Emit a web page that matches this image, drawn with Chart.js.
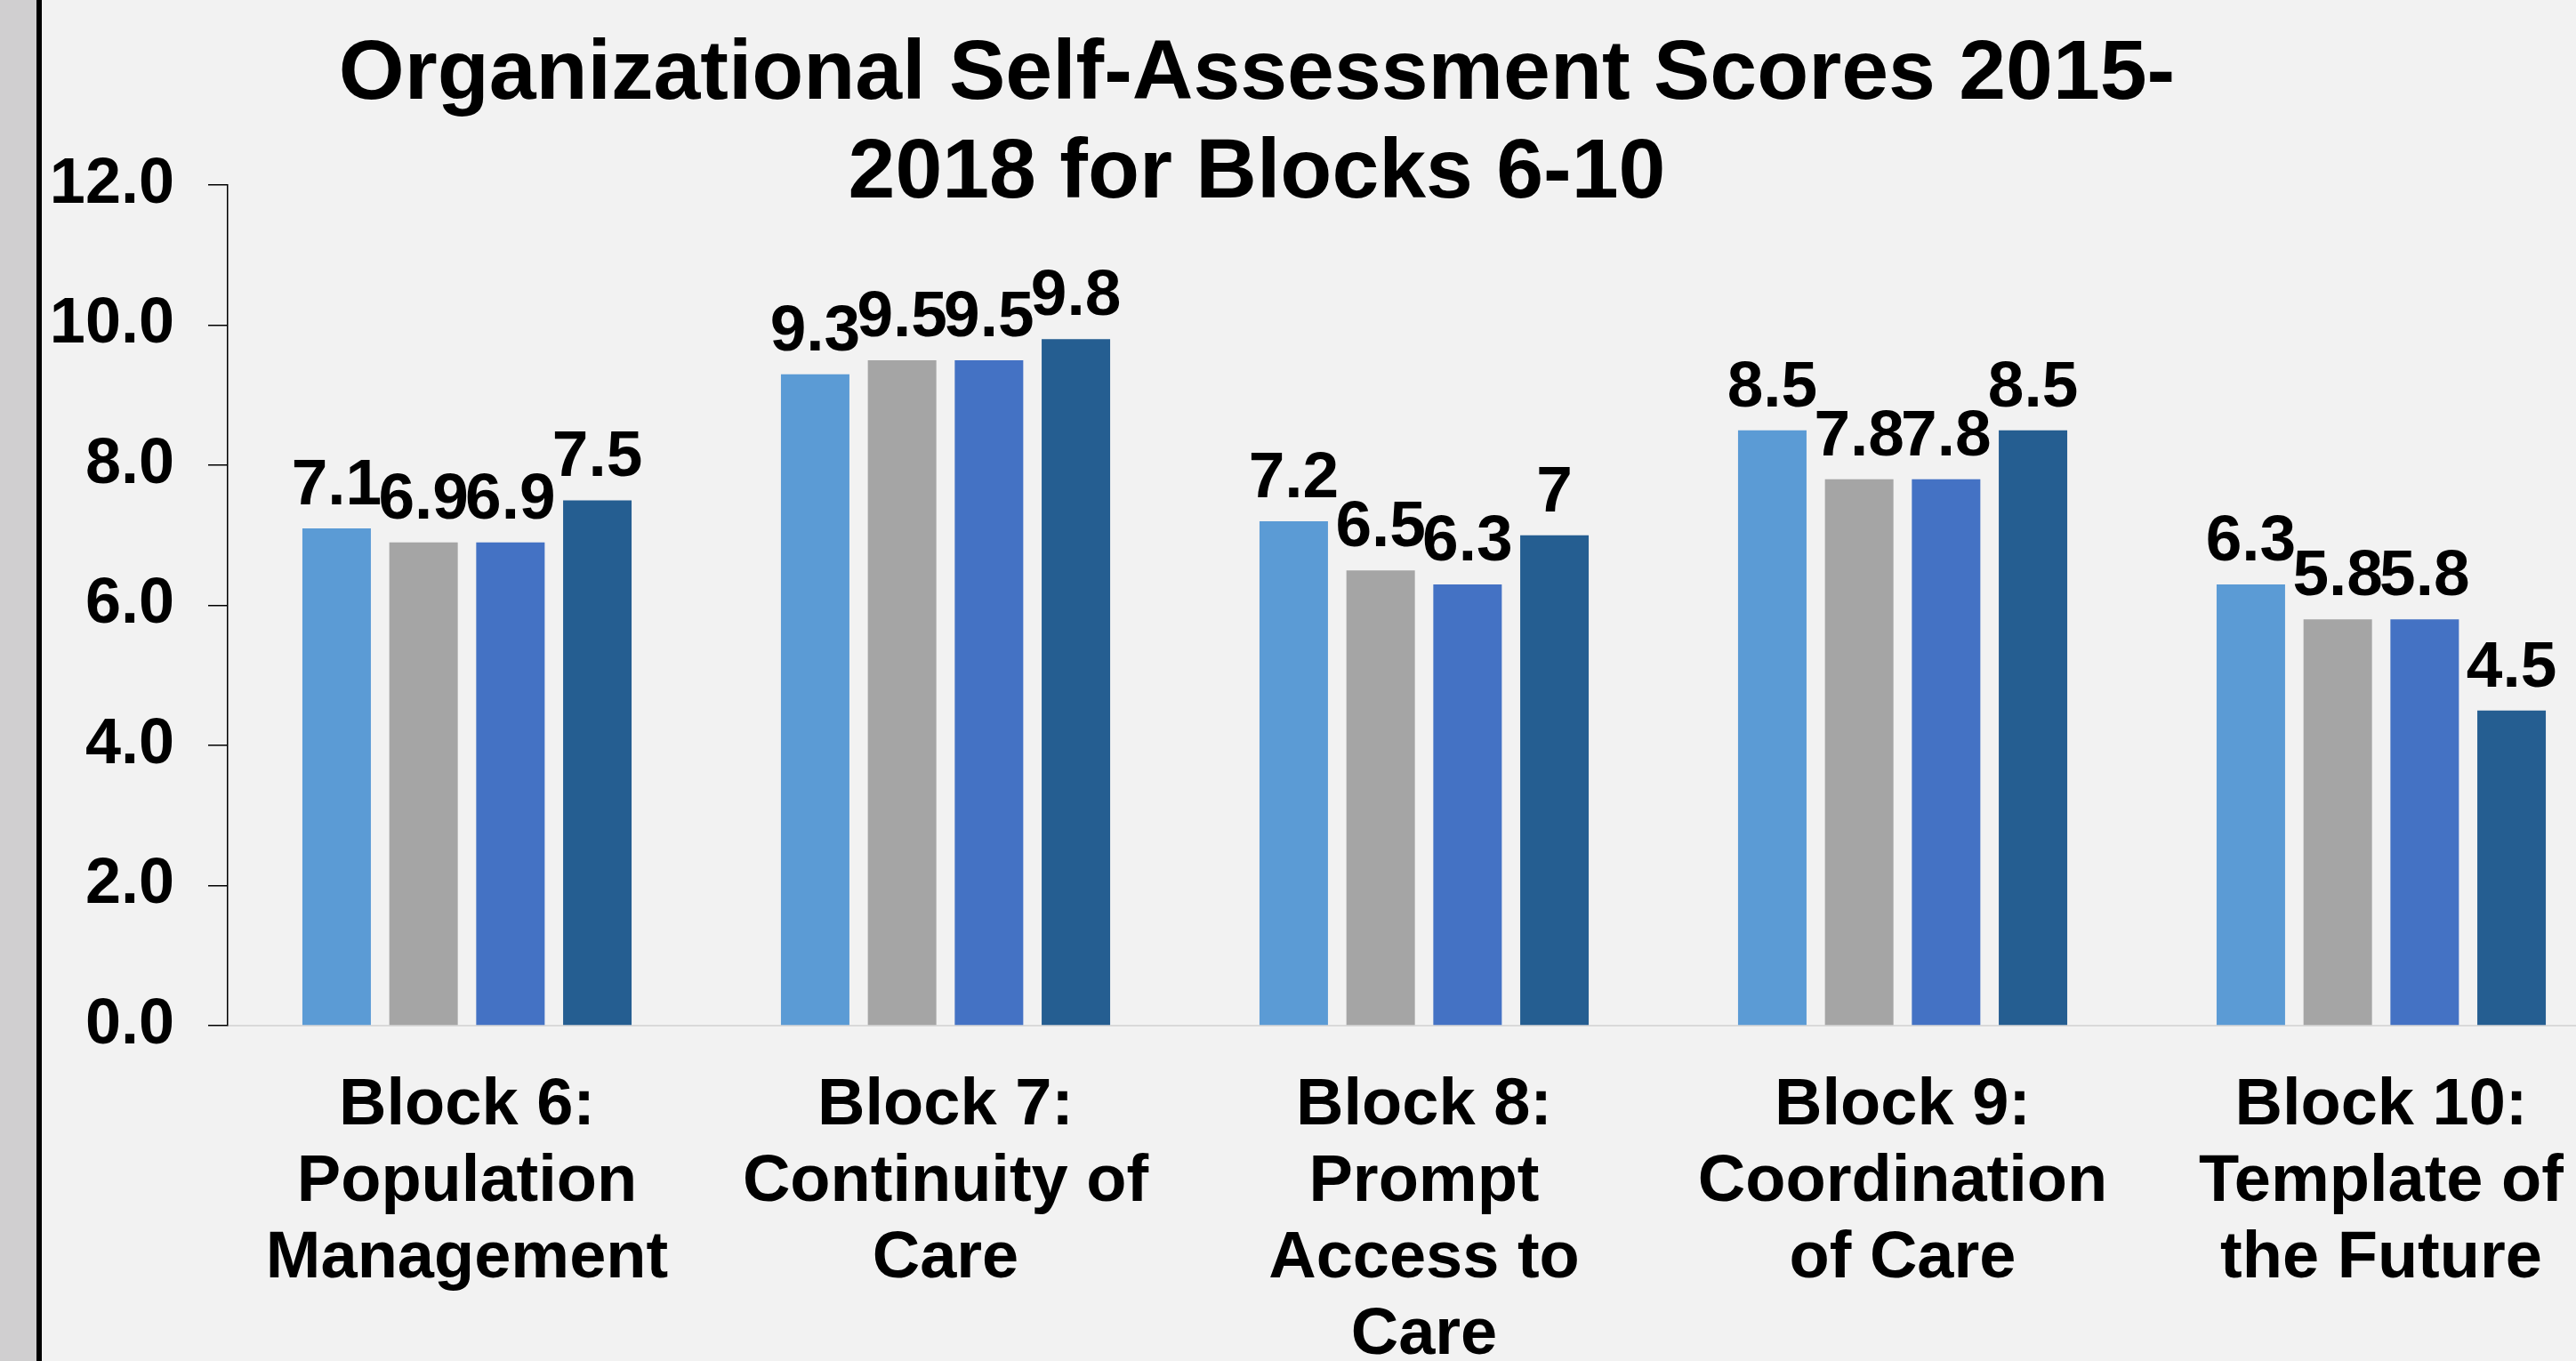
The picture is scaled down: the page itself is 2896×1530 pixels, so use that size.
<!DOCTYPE html>
<html>
<head>
<meta charset="utf-8">
<title>Organizational Self-Assessment Scores 2015-2018 for Blocks 6-10</title>
<script src="https://cdn.jsdelivr.net/npm/chart.js@4.4.1/dist/chart.umd.min.js"></script>
<style>
  html, body { margin: 0; padding: 0; background: #f2f2f2; overflow: hidden; }
  #marco { position: relative; width: 2896px; height: 1530px; overflow: hidden; background: #f2f2f2; }
  #grafica { position: absolute; left: 0; top: 0; }
  #franja { position: absolute; left: 0; top: 0; width: 41px; height: 1530px; background: #d0cfd0; }
  #linea { position: absolute; left: 41px; top: 0; width: 6px; height: 1530px; background: #000; }
</style>
</head>
<body>
<div id="marco">
  <canvas id="grafica" width="2960" height="1700"></canvas>
  <div id="franja"></div>
  <div id="linea"></div>
</div>
<script>
// Categorias (bloques)
const bloques = [
  ['Block 6:', 'Population', 'Management'],
  ['Block 7:', 'Continuity of', 'Care'],
  ['Block 8:', 'Prompt', 'Access to', 'Care'],
  ['Block 9:', 'Coordination', 'of Care'],
  ['Block 10:', 'Template of', 'the Future']
];

// Puntajes por año
const puntajes2015 = [7.1, 9.3, 7.2, 8.5, 6.3];
const puntajes2016 = [6.9, 9.5, 6.5, 7.8, 5.8];
const puntajes2017 = [6.9, 9.5, 6.3, 7.8, 5.8];
const puntajes2018 = [7.5, 9.8, 7, 8.5, 4.5];

const titulo = ['Organizational Self-Assessment Scores 2015-', '2018 for Blocks 6-10'];
const fuente = "'Liberation Sans', Arial, sans-serif";

// Dibuja el titulo (se encima un poco con el area de la grafica)
const tituloPlugin = {
  id: 'tituloPlugin',
  afterDraw(chart) {
    const ctx = chart.ctx;
    ctx.save();
    ctx.fillStyle = '#000';
    ctx.font = 'bold 95px ' + fuente;
    ctx.textAlign = 'center';
    ctx.textBaseline = 'alphabetic';
    titulo.forEach((linea, i) => ctx.fillText(linea, 1413, 111 + i * 111));
    ctx.restore();
  }
};

// Etiquetas con el valor encima de cada barra
const etiquetasPlugin = {
  id: 'etiquetasPlugin',
  afterDatasetsDraw(chart) {
    const ctx = chart.ctx;
    ctx.save();
    ctx.fillStyle = '#000';
    ctx.font = 'bold 73px ' + fuente;
    ctx.textAlign = 'center';
    ctx.textBaseline = 'alphabetic';
    chart.data.datasets.forEach((ds, i) => {
      chart.getDatasetMeta(i).data.forEach((barra, j) => {
        ctx.fillText(String(ds.data[j]), barra.x, barra.y - 27);
      });
    });
    ctx.restore();
  }
};

const ctx = document.getElementById('grafica').getContext('2d');
new Chart(ctx, {
  type: 'bar',
  data: {
    labels: bloques,
    datasets: [
      { label: '2015', data: puntajes2015, backgroundColor: '#5b9bd5' },
      { label: '2016', data: puntajes2016, backgroundColor: '#a5a5a5' },
      { label: '2017', data: puntajes2017, backgroundColor: '#4472c4' },
      { label: '2018', data: puntajes2018, backgroundColor: '#255e91' }
    ]
  },
  options: {
    responsive: false,
    animation: false,
    datasets: {
      bar: {
        categoryPercentage: 0.7264,
        barPercentage: 0.788
      }
    },
    layout: {
      padding: { top: 208, left: 0, right: 14, bottom: 0 }
    },
    plugins: {
      legend: { display: false },
      title: { display: false },
      tooltip: { enabled: false }
    },
    scales: {
      x: {
        grid: { display: true, drawOnChartArea: false, drawTicks: false },
        border: { display: true, color: '#d9d9d9', width: 2 },
        ticks: {
          color: '#000',
          padding: 48,
          maxRotation: 0,
          autoSkip: false,
          font: { family: fuente, size: 74, weight: 'bold', lineHeight: 1.16 }
        },
        afterFit(escala) { escala.height = 547; }   // deja el fondo del area en y=1153
      },
      y: {
        min: 0,
        max: 12,
        grid: { drawOnChartArea: false, drawTicks: true, tickLength: 22, color: '#000', lineWidth: 1.5 },
        border: { display: true, color: '#000', width: 1.5 },
        ticks: {
          stepSize: 2,
          color: '#000',
          padding: 38,
          font: { family: fuente, size: 72, weight: 'bold' },
          callback: v => v.toFixed(1)
        },
        afterFit(escala) { escala.width = 256; }
      }
    }
  },
  plugins: [tituloPlugin, etiquetasPlugin]
});
</script>
</body>
</html>
